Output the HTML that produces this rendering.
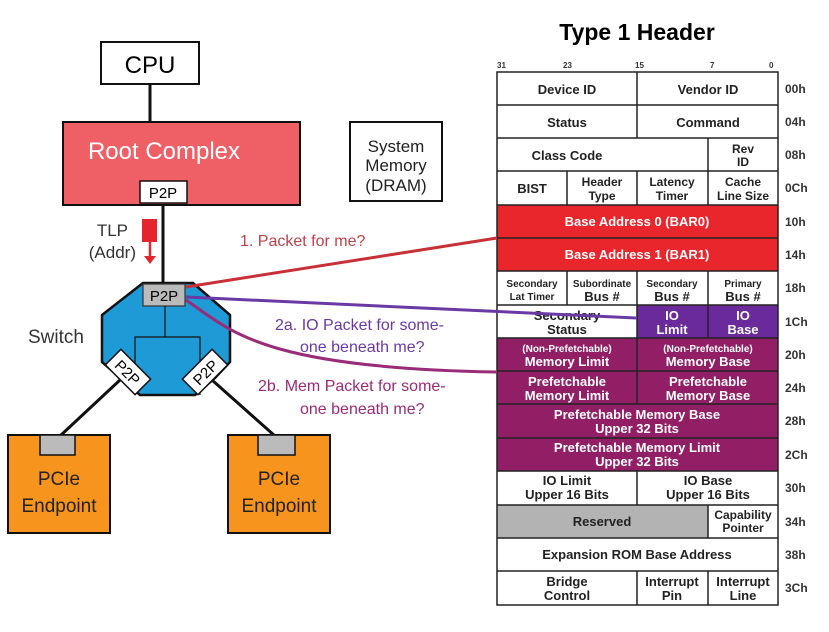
<!DOCTYPE html><html><head><style>body{margin:0;background:#fff}svg{display:block;font-family:"Liberation Sans",sans-serif}</style></head><body>
<svg width="829" height="632" viewBox="0 0 829 632" xmlns="http://www.w3.org/2000/svg">
<text x="637" y="40" font-size="23" font-weight="bold" text-anchor="middle">Type 1 Header</text>
<g font-size="8" font-weight="bold" fill="#333"><text x="497" y="68">31</text><text x="563" y="68">23</text><text x="635" y="68">15</text><text x="710" y="68">7</text><text x="769" y="68">0</text></g>
<rect x="497" y="205" width="281" height="66" fill="#e8262c"/>
<rect x="637" y="305" width="141" height="33" fill="#6a2a9c"/>
<rect x="497" y="338" width="281" height="133" fill="#921f66"/>
<rect x="497" y="505" width="211" height="33" fill="#b3b3b3"/>
<g stroke="#222" stroke-width="1.5" fill="none">
<rect x="497" y="72" width="281" height="533"/>
<path d="M497 105H778M497 138H778M497 171H778M497 205H778M497 238H778M497 271H778M497 305H778M497 338H778M497 371H778M497 404H778M497 438H778M497 471H778M497 505H778M497 538H778M497 571H778"/>
<path d="M637 72V138M708 138V205M567 171V205M637 171V205M567 271V305M637 271V404M708 271V338M637 471V505M708 505V538M637 571V605M708 571V605"/>
</g>
<g font-size="13" font-weight="bold" text-anchor="middle" fill="#222">
<text x="567" y="94">Device ID</text><text x="708" y="94">Vendor ID</text>
<text x="567" y="127">Status</text><text x="708" y="127">Command</text>
<text x="567" y="160">Class Code</text><text x="743" y="153" font-size="12">Rev</text><text x="743" y="166" font-size="12">ID</text>
<text x="532" y="193">BIST</text>
<g font-size="12"><text x="602" y="186">Header</text><text x="602" y="200">Type</text><text x="672" y="186">Latency</text><text x="672" y="200">Timer</text><text x="743" y="186">Cache</text><text x="743" y="200">Line Size</text></g>
<text x="637" y="226" fill="#fff">Base Address 0 (BAR0)</text>
<text x="637" y="259" fill="#fff">Base Address 1 (BAR1)</text>
<g font-size="10"><text x="532" y="287">Secondary</text><text x="532" y="300">Lat Timer</text><text x="602" y="287">Subordinate</text><text x="672" y="287">Secondary</text><text x="743" y="287">Primary</text></g>
<text x="602" y="301">Bus #</text><text x="672" y="301">Bus #</text><text x="743" y="301">Bus #</text>
<text x="567" y="320">Secondary</text><text x="567" y="334">Status</text>
<text x="672" y="320" fill="#fff">IO</text><text x="672" y="334" fill="#fff">Limit</text>
<text x="743" y="320" fill="#fff">IO</text><text x="743" y="334" fill="#fff">Base</text>
<g fill="#fff"><text x="567" y="352" font-size="10">(Non-Prefetchable)</text><text x="567" y="366">Memory Limit</text>
<text x="708" y="352" font-size="10">(Non-Prefetchable)</text><text x="708" y="366">Memory Base</text>
<text x="567" y="386">Prefetchable</text><text x="567" y="400">Memory Limit</text>
<text x="708" y="386">Prefetchable</text><text x="708" y="400">Memory Base</text>
<text x="637" y="419">Prefetchable Memory Base</text><text x="637" y="433">Upper 32 Bits</text>
<text x="637" y="452">Prefetchable Memory Limit</text><text x="637" y="466">Upper 32 Bits</text></g>
<text x="567" y="485">IO Limit</text><text x="567" y="499">Upper 16 Bits</text>
<text x="708" y="485">IO Base</text><text x="708" y="499">Upper 16 Bits</text>
<text x="602" y="526">Reserved</text>
<text x="743" y="519" font-size="12">Capability</text><text x="743" y="532" font-size="12">Pointer</text>
<text x="637" y="559">Expansion ROM Base Address</text>
<text x="567" y="586">Bridge</text><text x="567" y="600">Control</text>
<text x="672" y="586">Interrupt</text><text x="672" y="600">Pin</text>
<text x="743" y="586">Interrupt</text><text x="743" y="600">Line</text>
</g>
<g font-size="12" font-weight="bold" fill="#333">
<text x="785" y="93">00h</text><text x="785" y="126">04h</text><text x="785" y="159">08h</text><text x="785" y="192">0Ch</text><text x="785" y="226">10h</text><text x="785" y="259">14h</text><text x="785" y="292">18h</text><text x="785" y="326">1Ch</text><text x="785" y="359">20h</text><text x="785" y="392">24h</text><text x="785" y="425">28h</text><text x="785" y="459">2Ch</text><text x="785" y="492">30h</text><text x="785" y="526">34h</text><text x="785" y="559">38h</text><text x="785" y="592">3Ch</text>
</g>
<g stroke="#111" stroke-width="3"><path d="M150 84V122M163 205V284M120 380L60 436M212 380L275 436"/></g>
<rect x="101" y="42" width="98" height="42" fill="#fff" stroke="#111" stroke-width="2"/>
<text x="150" y="73" font-size="24" text-anchor="middle">CPU</text>
<rect x="63" y="122" width="237" height="83" fill="#ee5f66" stroke="#111" stroke-width="2"/>
<text x="164" y="159" font-size="24" fill="#fff" text-anchor="middle">Root Complex</text>
<rect x="140" y="181" width="47" height="22" fill="#fff" stroke="#111" stroke-width="1.5"/>
<text x="163" y="198" font-size="15" text-anchor="middle">P2P</text>
<rect x="350" y="122" width="92" height="79" fill="#fff" stroke="#111" stroke-width="2"/>
<g font-size="17" text-anchor="middle" fill="#222"><text x="396" y="152">System</text><text x="396" y="171">Memory</text><text x="396" y="191">(DRAM)</text></g>
<g font-size="17" fill="#333" text-anchor="end"><text x="128" y="236">TLP</text><text x="136" y="258">(Addr)</text></g>
<rect x="142" y="219" width="15" height="23" fill="#e2262c"/>
<path d="M150 242V259" stroke="#e2262c" stroke-width="2.5"/><path d="M144 256L150 264L156 256Z" fill="#e2262c"/>
<polygon points="143,283 193,283 230,315 230,362 215,378 195,395 140,395 102,362 102,315" fill="#1e9ad6" stroke="#111" stroke-width="2.5"/>
<rect x="143" y="284" width="42" height="22" fill="#bbb" stroke="#333" stroke-width="1.2"/>
<text x="164" y="301" font-size="15" text-anchor="middle">P2P</text>
<path d="M165 306V337M135 395V337H200V395" stroke="#111" stroke-width="1.2" fill="none"/>
<g transform="translate(128,372) rotate(45)"><rect x="-21" y="-11" width="42" height="22" fill="#fff" stroke="#111" stroke-width="1.5"/><text x="0" y="6" font-size="15" text-anchor="middle">P2P</text></g>
<g transform="translate(205,372) rotate(-45)"><rect x="-21" y="-11" width="42" height="22" fill="#fff" stroke="#111" stroke-width="1.5"/><text x="0" y="6" font-size="15" text-anchor="middle">P2P</text></g>
<text x="28" y="343" font-size="19" fill="#333">Switch</text>
<rect x="8" y="435" width="102" height="98" fill="#f7941d" stroke="#111" stroke-width="2"/>
<rect x="40" y="435" width="35" height="20" fill="#bbb" stroke="#111" stroke-width="1.5"/>
<rect x="228" y="435" width="102" height="98" fill="#f7941d" stroke="#111" stroke-width="2"/>
<rect x="258" y="435" width="37" height="20" fill="#bbb" stroke="#111" stroke-width="1.5"/>
<g font-size="19" text-anchor="middle" fill="#222"><text x="59" y="485">PCIe</text><text x="59" y="512">Endpoint</text><text x="279" y="485">PCIe</text><text x="279" y="512">Endpoint</text></g>
<path d="M186 287L497 238" stroke="#c83037" stroke-width="3"/>
<path d="M186 297L637 318" stroke="#6a3aa4" stroke-width="3" fill="none"/>
<path d="M186 300C230 330 260 368 497 372" stroke="#9a2b78" stroke-width="3" fill="none"/>
<g font-size="16"><text x="240" y="246" fill="#c0404a">1. Packet for me?</text>
<text x="275" y="330" fill="#6a3aa4">2a. IO Packet for some-</text><text x="300" y="352" fill="#6a3aa4">one beneath me?</text>
<text x="258" y="391" fill="#9a2b78">2b. Mem Packet for some-</text><text x="300" y="414" fill="#9a2b78">one beneath me?</text></g>
</svg></body></html>
